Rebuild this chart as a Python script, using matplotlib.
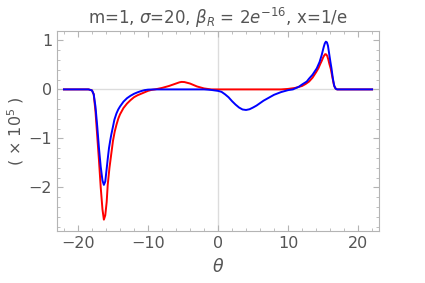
import numpy as np
import matplotlib
matplotlib.use("Agg")
import matplotlib.pyplot as plt
from matplotlib.ticker import MultipleLocator

# values (units of 1e5)
theta_red = [-22, -19, -18.5, -18, -17.75, -17.5, -17.25, -17, -16.75, -16.5, -16.3, -16.1,
             -15.9, -15.75, -15.5, -15.2, -15, -14.75, -14.5, -14.25, -14, -13.5, -13, -12.5,
             -12, -11.5, -11, -10.5, -10, -9.5, -9, -8, -7, -6, -5.5, -5.2, -4.8, -4, -3, -2,
             -1, 0, 5, 8, 9, 10, 11, 12, 12.5, 13, 13.5, 14, 14.33, 14.6, 14.8, 15, 15.15,
             15.3, 15.45, 15.6, 15.75, 15.9, 16.1, 16.3, 16.45, 16.55, 16.7, 16.85, 17, 18, 22]
red = [0, 0, 0, -0.02, -0.1, -0.45, -0.95, -1.45, -2.0, -2.45, -2.66, -2.57,
       -2.3, -1.95, -1.6, -1.27, -1.05, -0.86, -0.72, -0.6, -0.51, -0.38, -0.29, -0.22,
       -0.16, -0.12, -0.09, -0.06, -0.03, -0.01, 0.0, 0.03, 0.07, 0.12, 0.145, 0.153, 0.15, 0.12, 0.06, 0.02,
       0.0, 0, 0, 0, 0.0, 0.01, 0.03, 0.07, 0.11, 0.16, 0.24, 0.35, 0.43, 0.52, 0.58, 0.65, 0.69,
       0.72, 0.715, 0.68, 0.61, 0.52, 0.42, 0.27, 0.16, 0.09, 0.035, 0.01, 0, 0, 0]

theta_blue = [-22, -19, -18.5, -18, -17.75, -17.5, -17.25, -17, -16.75, -16.5, -16.3, -16.1,
              -15.9, -15.75, -15.57, -15.4, -15.25, -15, -14.8, -14.5, -14.25, -14, -13.5, -13,
              -12.5, -12, -11.5, -11, -10.5, -10, -9, -5, -2, -1, -0.5, 0, 0.5, 1, 1.5, 2, 2.5,
              3, 3.5, 4, 4.5, 5, 5.5, 6, 6.5, 7, 7.5, 8, 9, 10, 10.7, 11, 11.5, 12, 12.67, 13,
              13.5, 14.1, 14.5, 14.8, 15.1, 15.25, 15.4, 15.55, 15.7, 15.9, 16.05, 16.2, 16.4,
              16.6, 16.8, 17, 18, 22]
blue = [0, 0, 0, -0.02, -0.1, -0.35, -0.75, -1.2, -1.58, -1.86, -1.95, -1.88,
        -1.62, -1.42, -1.2, -1.05, -0.93, -0.76, -0.62, -0.49, -0.41, -0.35, -0.25, -0.18,
        -0.13, -0.09, -0.06, -0.035, -0.015, -0.005, 0, 0, 0, -0.01, -0.02, -0.03, -0.05, -0.1, -0.16, -0.24, -0.31,
        -0.37, -0.41, -0.42, -0.405, -0.37, -0.33, -0.28, -0.23, -0.19, -0.15, -0.11, -0.055, -0.015, 0.0, 0.02, 0.05, 0.1, 0.16, 0.22,
        0.3, 0.43, 0.56, 0.7, 0.87, 0.94, 0.975, 0.96, 0.89, 0.7, 0.56, 0.43, 0.22,
        0.07, 0.015, 0, 0, 0]

grey = "#555555"
frame = "#b4b4b4"

fig = plt.figure(figsize=(4.25, 2.83), dpi=100)
ax = fig.add_axes([0.134, 0.184, 0.758, 0.706])

ax.axhline(0, color="#dcdcdc", lw=1.0, zorder=0)
ax.axvline(0, color="#dcdcdc", lw=1.0, zorder=0)
ax.plot(theta_red, red, color=(1, 0, 0), lw=1.4)
ax.plot(theta_blue, blue, color=(0, 0, 1), lw=1.4)

ax.set_xlim(-23, 23)
ax.set_ylim(-2.89, 1.19)
ax.xaxis.set_major_locator(MultipleLocator(10))
ax.xaxis.set_minor_locator(MultipleLocator(2))
ax.yaxis.set_major_locator(MultipleLocator(1))
ax.yaxis.set_minor_locator(MultipleLocator(0.2))
ax.xaxis.set_major_formatter(matplotlib.ticker.FuncFormatter(lambda v, p: f"{v:.0f}".replace("-", "\u2212")))
ax.yaxis.set_major_formatter(matplotlib.ticker.FuncFormatter(lambda v, p: f"{v:.0f}".replace("-", "\u2212")))

for s in ax.spines.values():
    s.set_color(frame)
ax.tick_params(which="both", direction="in", top=True, right=True, color=frame,
               labelcolor=grey, labelsize=11.5)
ax.tick_params(which="major", length=4, width=0.8)
ax.tick_params(which="minor", length=2, width=0.6)

ax.set_xlabel(r"$\theta$", color=grey, fontsize=12.5, labelpad=5)
ax.set_ylabel(r"( $\times$ 10$^5$ )", color=grey, fontsize=11.5)
ax.yaxis.set_label_coords(-0.095, 0.5)
ax.set_title(r"m=1, $\sigma$=20, $\beta_R$ = 2$e^{-16}$, x=1/e", color=grey, fontsize=12, pad=5)

fig.savefig("out.png", dpi=100)
